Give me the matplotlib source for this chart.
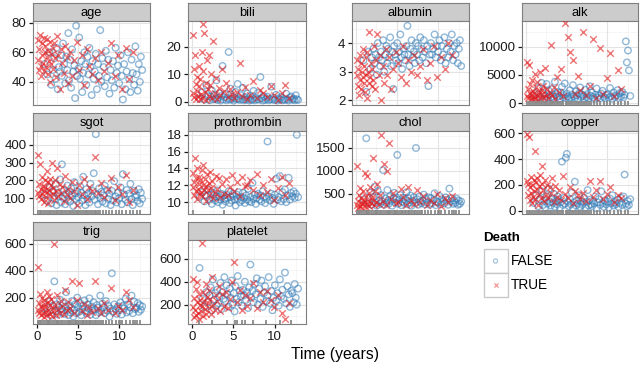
import matplotlib

matplotlib.use("Agg")
import matplotlib.pyplot as plt
from matplotlib.patches import Rectangle


BLUE = "#377EB8"
RED = "#E41A1C"

# follow-up time (years) of patients who died / who were censored
DEAD_TIME = [
    0.11, 0.16, 0.24, 0.31, 0.38, 0.47, 0.52, 0.61, 0.68, 0.74, 0.83, 0.91, 0.97,
    1.04, 1.12, 1.19, 1.27, 1.36, 1.41, 1.52, 1.58, 1.67, 1.76, 1.83, 1.94,
    2.03, 2.11, 2.22, 2.36, 2.48, 2.61, 2.77, 2.93,
    3.08, 3.27, 3.41, 3.62, 3.85,
    4.07, 4.31, 4.58, 4.86,
    5.13, 5.45, 5.78, 6.07, 6.38, 6.71,
    7.03, 7.39, 7.82, 8.21, 8.63,
    9.04, 9.52, 9.91, 10.37, 10.84, 11.26, 11.71,
]
ALIVE_TIME = [
    0.94, 1.28, 1.53, 1.77, 1.96,
    2.14, 2.29, 2.41, 2.56, 2.68, 2.83, 2.97,
    3.06, 3.19, 3.33, 3.46, 3.58, 3.71, 3.84, 3.93,
    4.06, 4.18, 4.29, 4.44, 4.57, 4.66, 4.79, 4.92,
    5.04, 5.16, 5.27, 5.41, 5.53, 5.64, 5.79, 5.91,
    6.02, 6.16, 6.28, 6.39, 6.53, 6.67, 6.78, 6.92,
    7.05, 7.17, 7.31, 7.44, 7.58, 7.71, 7.83, 7.97,
    8.12, 8.26, 8.39, 8.54, 8.68, 8.83, 8.97,
    9.12, 9.26, 9.41, 9.57, 9.72, 9.86,
    10.01, 10.17, 10.32, 10.46, 10.61, 10.77, 10.91,
    11.06, 11.22, 11.37, 11.51, 11.66, 11.82, 11.97,
    12.11, 12.26, 12.39, 12.52, 12.64, 12.8,
]

AGE_DEAD = [
    55, 68, 48, 62, 72, 51, 44, 58, 66, 53, 70, 47, 60,
    64, 50, 57, 69, 45, 61, 54, 40, 67, 52, 59, 63,
    49, 66, 56, 43, 71, 58, 35, 62,
    53, 46, 64, 57, 39,
    60, 44, 55, 67,
    48, 58, 38, 62, 51, 45,
    56, 41, 60, 47, 53,
    66, 44, 58, 35, 63, 42, 60,
]
AGE_ALIVE = [
    52, 45, 60, 38, 48,
    56, 42, 63, 35, 50, 47, 58,
    44, 66, 52, 39, 57, 48, 73, 41,
    55, 36, 62, 47, 51, 29, 78, 44,
    49, 70, 42, 54, 33, 46, 60, 52,
    38, 57, 45, 63, 50, 31, 54, 42,
    47, 59, 35, 52, 44, 75, 40, 56,
    50, 37, 61, 43, 55, 32, 48,
    41, 54, 36, 63, 46, 51,
    39, 58, 44, 28, 52, 35, 47,
    60, 42, 33, 55, 46, 38, 64,
    45, 34, 52, 40, 57, 48,
]

BILI_DEAD = [
    3.2, 24, 12, 1.8, 17, 6.5, 0.9, 9, 4.1, 2.3, 13, 5.6, 1.2,
    8.2, 2.7, 18, 1.5, 28, 11, 25, 3.6, 7, 0.8, 15, 4.8,
    2.1, 17, 6, 10, 1.4, 22, 3.3, 8.5,
    1.1, 5.2, 2.4, 12, 3.9,
    6.8, 1.7, 4.5, 2.9,
    1.3, 3.7, 14, 2.2, 5.5, 0.9,
    2.6, 7.4, 1.6, 4.2, 3.1,
    1.9, 5.8, 2.5, 0.7, 3.4, 6.1, 1.4,
]
BILI_ALIVE = [
    1.2, 3.5, 0.8, 6, 2.1,
    0.6, 1.8, 4.2, 0.9, 2.6, 1.1, 7.8,
    0.7, 1.5, 3.1, 0.5, 2.2, 13, 0.9, 1.7,
    2.8, 0.6, 1.3, 18, 0.8, 4.8, 1.0, 2.0,
    0.5, 1.4, 3.6, 0.9, 6.5, 1.2, 0.7, 2.4,
    1.0, 5.1, 0.6, 1.8, 0.8, 3.0, 1.3, 0.5,
    2.2, 0.7, 1.1, 4.0, 0.6, 1.6, 0.9, 3.3,
    0.8, 9, 1.4, 0.5, 2.1, 0.7, 1.2,
    1.9, 0.6, 1.0, 5.5, 0.8, 1.5,
    0.7, 2.6, 0.5, 1.3, 0.9, 1.8, 0.6,
    1.1, 0.7, 3.0, 0.9, 0.5, 1.6, 2.0,
    0.8, 1.2, 0.6, 2.4, 1.0, 0.7,
]

ALBUMIN_DEAD = [
    2.9, 3.4, 2.5, 3.1, 2.2, 3.6, 2.7, 3.3, 2.4, 3.0, 2.8, 3.8, 2.6,
    3.2, 2.3, 3.5, 2.9, 2.1, 3.7, 3.0, 2.6, 4.4, 2.8, 3.3, 2.5,
    3.1, 2.7, 3.9, 2.4, 3.4, 4.3, 2.9, 3.6,
    2.0, 3.2, 2.6, 3.8, 2.9,
    3.5, 2.4, 3.1, 3.7,
    3.3, 2.8, 3.9, 2.6, 3.4, 3.0,
    3.6, 2.9, 3.2, 3.8, 2.7,
    3.3, 3.9, 2.8, 3.5, 3.1, 4.0, 3.6,
]
ALBUMIN_ALIVE = [
    3.4, 2.3, 3.7, 3.1, 3.5,
    3.8, 3.3, 3.6, 2.9, 4.0, 3.5, 3.2,
    3.7, 3.4, 4.1, 3.0, 3.6, 3.9, 3.3, 3.8,
    3.5, 4.2, 3.2, 3.7, 2.4, 3.9, 3.6, 3.4,
    4.0, 3.3, 3.7, 4.3, 3.5, 3.1, 3.8, 3.6,
    3.4, 3.9, 4.6, 3.6, 3.2, 3.8, 4.1, 3.5,
    3.7, 3.3, 4.0, 3.6, 3.9, 3.4, 4.2, 3.8,
    3.5, 4.1, 3.7, 3.3, 3.9, 2.5, 3.6,
    4.0, 3.6, 3.8, 4.3, 3.5, 3.9,
    3.7, 4.1, 3.4, 3.9, 3.6, 4.2, 3.3,
    3.8, 3.5, 4.0, 3.7, 4.3, 3.4, 3.9,
    3.6, 4.0, 3.3, 3.8, 4.1, 3.2,
]

ALK_DEAD = [
    1200, 7200, 2500, 850, 6800, 1800, 3400, 950, 1500, 4100, 700, 2200, 1100,
    1900, 5200, 800, 2800, 1300, 3700, 650, 2100, 1600, 5600, 1000, 2400,
    1700, 3100, 900, 6300, 1400, 2600, 1000, 1800,
    10200, 1500, 2900, 800, 4700,
    2000, 6100, 1200, 14100,
    11600, 9000, 7600, 1700, 4800, 2300,
    12500, 1400, 3000, 11300, 900,
    9700, 1600, 4400, 8900, 1300, 5800, 2500,
]
ALK_ALIVE = [
    1400, 900, 2700, 1100, 3600,
    1800, 700, 1300, 3400, 950, 2200, 1500,
    1000, 2500, 1200, 800, 3800, 1600, 1100, 2000,
    1300, 750, 1900, 2900, 1050, 1450, 3500, 900,
    1700, 1200, 850, 2300, 1000, 1550, 3200, 1250,
    950, 2100, 1400, 700, 1750, 2800, 1100, 1500,
    1250, 800, 2400, 1050, 1650, 900, 3000, 1300,
    1900, 1100, 750, 1500, 2600, 1000, 1350,
    850, 1700, 2200, 1150, 900, 1450,
    1600, 1000, 2700, 1250, 800, 1900, 1100,
    1400, 2300, 950, 1750, 1200, 2000, 1050,
    1500, 10900, 7200, 9300, 5800, 1300,
]

SGOT_DEAD = [
    130, 340, 110, 180, 290, 95, 150, 220, 120, 170, 80, 140, 200,
    160, 105, 250, 135, 190, 70, 145, 210, 115, 175, 300, 125,
    155, 90, 200, 140, 270, 110, 180, 130,
    165, 85, 225, 120, 150,
    100, 190, 140, 60,
    175, 120, 210, 95, 160, 140,
    330, 130, 185, 105, 150,
    215, 90, 160, 125, 230, 75, 145,
]
SGOT_ALIVE = [
    120, 85, 160, 70, 140,
    95, 180, 60, 130, 110, 205, 75,
    290, 100, 145, 65, 120, 170, 90, 135,
    80, 155, 110, 55, 190, 125, 95, 140,
    105, 70, 165, 130, 85, 220, 115, 60,
    150, 95, 125, 75, 180, 110, 140, 240,
    90, 460, 120, 65, 155, 100, 135, 80,
    115, 170, 70, 145, 95, 125, 60,
    140, 85, 195, 110, 75, 130,
    100, 160, 65, 235, 120, 90, 145,
    75, 125, 180, 95, 60, 140, 105,
    115, 85, 150, 70, 130, 95,
]

PROTHROMBIN_DEAD = [
    11.8, 13.5, 10.9, 12.4, 15.2, 11.3, 12.9, 10.4, 14.1, 11.6, 12.2, 13.0, 11.0,
    12.6, 11.2, 13.8, 10.7, 12.0, 14.4, 11.5, 12.8, 10.2, 11.9, 13.3, 11.4,
    12.3, 10.8, 13.6, 11.7, 12.5, 10.5, 11.1, 13.1,
    11.6, 12.9, 10.6, 12.2, 11.0,
    12.7, 10.9, 11.8, 13.2,
    11.3, 12.4, 10.7, 13.0, 11.9, 12.1,
    12.6, 11.5, 13.4, 10.8, 12.0,
    11.2, 12.8, 10.3, 11.7, 13.0, 10.9, 12.3,
]
PROTHROMBIN_ALIVE = [
    10.6, 11.2, 10.1, 10.8, 11.5,
    10.3, 10.9, 9.8, 10.5, 11.1, 10.2, 10.7,
    11.4, 10.0, 10.6, 10.3, 11.0, 9.7, 10.8, 10.4,
    10.1, 10.9, 10.5, 11.3, 9.9, 10.6, 10.2, 11.0,
    10.7, 10.3, 9.6, 10.9, 10.4, 11.2, 10.0, 10.6,
    10.2, 11.1, 10.5, 9.9, 10.8, 10.3, 11.6, 10.1,
    10.6, 10.0, 12.3, 10.4, 10.9, 9.8, 10.5, 11.0,
    10.3, 10.8, 10.1, 11.3, 10.6, 9.9, 10.4,
    17.2, 10.7, 10.2, 11.0, 10.5, 9.8,
    10.9, 12.8, 10.3, 10.6, 13.1, 10.1, 11.2,
    10.4, 11.5, 10.0, 10.8, 12.9, 10.3, 11.1,
    10.7, 11.3, 10.5, 11.0, 18.0, 10.6,
]

CHOL_DEAD = [
    260, 1090, 340, 180, 480, 230, 620, 300, 410, 200, 550, 280, 370,
    320, 940, 210, 460, 270, 880, 350, 520, 240, 650, 300, 430,
    390, 1280, 250, 560, 310, 720, 280, 470,
    1780, 340, 1150, 260, 1000,
    1600, 380, 520, 290,
    310, 600, 420, 250, 640, 360,
    280, 590, 330, 450, 260,
    370, 290, 500, 240, 410, 330, 460,
]
CHOL_ALIVE = [
    380, 1700, 290, 520, 260,
    430, 650, 310, 240, 560, 350, 280,
    470, 330, 1010, 260, 400, 300, 580, 360,
    290, 450, 340, 240, 390, 520, 310, 420,
    1340, 280, 370, 470, 250, 330, 410, 300,
    360, 530, 270, 400, 310, 460, 240, 350,
    420, 300, 1490, 380, 260, 440, 330, 290,
    350, 480, 270, 390, 310, 420, 260,
    400, 290, 360, 510, 250, 330,
    310, 450, 270, 380, 340, 290, 420,
    370, 260, 610, 330, 400, 280, 350,
    300, 390, 260, 350, 280, 330,
]

COPPER_DEAD = [
    230, 590, 120, 210, 570, 80, 180, 260, 140, 60, 200, 110, 240,
    150, 460, 90, 220, 170, 250, 45, 190, 130, 280, 100, 210,
    350, 160, 75, 240, 120, 200, 95, 180,
    140, 250, 70, 190, 110,
    160, 85, 270, 130,
    100, 180, 60, 150, 120, 90,
    140, 75, 230, 110, 160,
    230, 90, 130, 180, 70, 120, 100,
]
COPPER_ALIVE = [
    60, 120, 35, 90, 150,
    45, 80, 25, 110, 55, 170, 70,
    40, 95, 60, 130, 30, 75, 50, 110,
    85, 25, 65, 380, 45, 100, 55, 410,
    440, 70, 35, 90, 50, 140, 20, 65,
    225, 40, 80, 55, 120, 30, 75, 45,
    60, 100, 25, 70, 160, 40, 85, 50,
    35, 75, 55, 110, 20, 65, 90,
    45, 150, 60, 30, 80, 50,
    70, 25, 95, 55, 120, 40, 65,
    50, 85, 30, 60, 100, 45, 110,
    280, 55, 35, 75, 45, 90,
]

TRIG_DEAD = [
    110, 430, 160, 90, 230, 70, 140, 200, 120, 85, 180, 60, 150,
    130, 95, 240, 75, 170, 110, 210, 80, 145, 190, 65, 125,
    100, 600, 155, 70, 220, 115, 90, 175,
    140, 80, 260, 110, 165,
    125, 320, 90, 180,
    310, 100, 150, 75, 130, 95,
    320, 120, 85, 160, 105,
    270, 90, 140, 110, 240, 180, 130,
]
TRIG_ALIVE = [
    120, 90, 170, 65, 140,
    320, 100, 150, 75, 130, 185, 95,
    115, 160, 80, 135, 240, 105, 70, 145,
    90, 125, 175, 60, 110, 150, 85, 200,
    130, 95, 160, 70, 115, 140, 180, 100,
    85, 150, 120, 195, 75, 135, 105, 165,
    110, 70, 145, 125, 90, 215, 100, 155,
    130, 85, 175, 105, 140, 60, 120,
    380, 95, 150, 115, 80, 135,
    105, 165, 75, 140, 120, 190, 90,
    150, 100, 130, 215, 85, 170, 115,
    125, 160, 95, 145, 110, 135,
]

PLATELET_DEAD = [
    180, 420, 90, 260, 150, 340, 110, 220, 400, 130, 290, 70, 200,
    240, 140, 740, 190, 310, 100, 230, 160, 380, 120, 270, 210,
    170, 330, 250, 120, 440, 200, 150, 280,
    230, 360, 140, 290, 190,
    310, 170, 250, 400,
    570, 220, 330, 150, 280, 190,
    260, 390, 170, 310, 220,
    320, 240, 180, 280, 130, 70, 210,
]
PLATELET_ALIVE = [
    520, 250, 180, 310, 220,
    280, 350, 150, 420, 240, 300, 190,
    330, 210, 270, 390, 160, 310, 250, 440,
    230, 370, 290, 180, 340, 260, 410, 200,
    300, 140, 360, 250, 450, 220, 320, 270,
    190, 330, 280, 400, 240, 310, 170, 350,
    550, 260, 320, 220, 380, 290, 430, 200,
    340, 250, 410, 180, 300, 360, 230,
    280, 440, 210, 320, 150, 260,
    370, 230, 300, 190, 420, 270, 330,
    250, 480, 210, 360, 290, 180, 320,
    300, 220, 380, 260, 200, 340,
]

# times of patients with the lab value missing (drawn as a rug)
MISSING_LAB_TIME = [
    0.18, 0.42, 0.55, 0.81, 1.02, 1.24, 1.47, 1.63, 1.88, 2.07, 2.31, 2.52,
    2.74, 2.96, 3.12, 3.37, 3.55, 3.78, 3.99, 4.21, 4.43, 4.62, 4.88, 5.07,
    5.29, 5.48, 5.72, 5.93, 6.14, 6.36, 6.58, 6.81, 7.02, 7.25, 7.47, 7.73,
    8.05, 8.42, 8.77, 9.13, 9.58, 9.96, 10.34, 10.82, 11.27, 11.71, 12.18, 12.55,
]
MISSING_EXTRA_TIME = [0.33, 1.35, 2.63, 3.9, 4.75, 5.6, 6.5, 7.9, 10.1, 11.9]
MISSING_PLATELET_TIME = [0.9, 2.4, 4.3, 5.2, 5.5, 6.1, 6.4, 7.4, 8.9, 10.6, 12.0]
MISSING_PROTHROMBIN_TIME = [0.15, 3.9]

X_TICKS = [0, 5, 10]
LEGEND_LABELS = ["FALSE", "TRUE"]

# pixel layout of the 640x365 canvas
W, H = 640, 365
COLS = [(33, 150), (188, 306), (352, 469), (522, 638)]
ROWS = [(3, 21, 105), (113, 131, 214), (222, 240, 324)]
XLIM = (-0.45, 13.75)


def panel_specs():
    return [
        ("age", AGE_DEAD, AGE_ALIVE, (24.3, 81.2), [40, 60, 80], [30, 50, 70], []),
        ("bili", BILI_DEAD, BILI_ALIVE, (-1.1, 29.2), [0, 10, 20], [5, 15, 25], []),
        ("albumin", ALBUMIN_DEAD, ALBUMIN_ALIVE, (1.84, 4.77), [2, 3, 4], [2.5, 3.5, 4.5], []),
        ("alk", ALK_DEAD, ALK_ALIVE, (-300, 14500), [0, 5000, 10000], [2500, 7500, 12500],
         MISSING_LAB_TIME),
        ("sgot", SGOT_DEAD, SGOT_ALIVE, (10, 478), [100, 200, 300, 400], [50, 150, 250, 350, 450],
         MISSING_LAB_TIME),
        ("prothrombin", PROTHROMBIN_DEAD, PROTHROMBIN_ALIVE, (8.6, 18.45), [10, 12, 14, 16, 18],
         [9, 11, 13, 15, 17], MISSING_PROTHROMBIN_TIME),
        ("chol", CHOL_DEAD, CHOL_ALIVE, (60, 1858), [500, 1000, 1500], [250, 750, 1250, 1750],
         MISSING_LAB_TIME + MISSING_EXTRA_TIME),
        ("copper", COPPER_DEAD, COPPER_ALIVE, (-25, 617), [0, 200, 400, 600], [100, 300, 500],
         MISSING_LAB_TIME),
        ("trig", TRIG_DEAD, TRIG_ALIVE, (5, 626), [200, 400, 600], [100, 300, 500],
         MISSING_LAB_TIME + MISSING_EXTRA_TIME),
        ("platelet", PLATELET_DEAD, PLATELET_ALIVE, (30, 765), [200, 400, 600], [100, 300, 500, 700],
         MISSING_PLATELET_TIME),
    ]


def px_rect(x0, y0, x1, y1):
    return [x0 / W, 1 - y1 / H, (x1 - x0) / W, (y1 - y0) / H]


def draw_panel(fig, idx, spec):
    name, dead, alive, ylim, yticks, yminor, missing = spec
    r, c = divmod(idx, 4)
    x0, x1 = COLS[c]
    s0, p0, p1 = ROWS[r]

    strip = fig.add_axes(px_rect(x0, s0, x1, p0))
    strip.set_facecolor("#CCCCCC")
    strip.set_xticks([])
    strip.set_yticks([])
    for sp in strip.spines.values():
        sp.set_color("#7F7F7F")
        sp.set_linewidth(0.8)
    strip.text(0.5, 0.45, name, ha="center", va="center", fontsize=9.3, transform=strip.transAxes)

    ax = fig.add_axes(px_rect(x0, p0, x1, p1))
    ax.set_xlim(*XLIM)
    ax.set_ylim(*ylim)
    for v in [2.5, 7.5, 12.5]:
        ax.axvline(v, color="#F3F3F3", lw=0.5, zorder=0)
    for v in yminor:
        ax.axhline(v, color="#F3F3F3", lw=0.5, zorder=0)
    for v in X_TICKS:
        ax.axvline(v, color="#E3E3E3", lw=0.8, zorder=0)
    for v in yticks:
        ax.axhline(v, color="#E3E3E3", lw=0.8, zorder=0)

    n_a = min(len(ALIVE_TIME), len(alive))
    n_d = min(len(DEAD_TIME), len(dead))
    ax.scatter(ALIVE_TIME[:n_a], alive[:n_a], s=22, facecolors="none", edgecolors=BLUE,
               linewidths=1.0, alpha=0.55, zorder=2)
    ax.scatter(DEAD_TIME[:n_d], dead[:n_d], s=22, marker="x", c=RED,
               linewidths=1.0, alpha=0.6, zorder=3)

    if missing:
        ax.vlines(missing, 0, 0.045, transform=ax.get_xaxis_transform(),
                  colors="#8A8A8A", lw=1.3, zorder=4)

    ax.set_yticks(yticks)
    ax.set_yticklabels([str(v) for v in yticks])
    ax.tick_params(axis="y", labelsize=9.5, length=3.2, width=0.9, pad=1.5, colors="#1A1A1A")
    if name in ("trig", "platelet"):
        ax.set_xticks(X_TICKS)
        ax.tick_params(axis="x", labelsize=9.5, length=3.2, width=0.9, pad=2, colors="#1A1A1A")
    else:
        ax.set_xticks([])
    for sp in ax.spines.values():
        sp.set_color("#7F7F7F")
        sp.set_linewidth(0.8)


def draw_legend(fig):
    lax = fig.add_axes(px_rect(478, 228, 570, 300))
    lax.set_xlim(478, 570)
    lax.set_ylim(300, 228)
    lax.axis("off")
    lax.text(483, 238, "Death", fontsize=9.6, fontweight="bold", va="center", ha="left")
    for i, label in enumerate(LEGEND_LABELS):
        top = 249 + 24 * i
        lax.add_patch(Rectangle((483.5, top), 24, 24, facecolor="white", edgecolor="#C8C8C8", lw=1.0))
        if label == "FALSE":
            lax.scatter([495.5], [top + 12], s=9, facecolors="none", edgecolors=BLUE,
                        linewidths=0.9, alpha=0.45)
        else:
            lax.scatter([495.5], [top + 12], s=9, marker="x", c=RED, linewidths=0.9, alpha=0.45)
        lax.text(511, top + 12, label, fontsize=9.8, va="center", ha="left")


def main():
    plt.rcParams["font.family"] = ["Liberation Sans", "DejaVu Sans"]
    fig = plt.figure(figsize=(6.4, 3.65), dpi=100, facecolor="white")

    for idx, spec in enumerate(panel_specs()):
        draw_panel(fig, idx, spec)

    draw_legend(fig)
    fig.text(335 / W, 1 - 355 / H, "Time (years)", ha="center", va="center", fontsize=11.3)

    fig.savefig("out.png", dpi=100, facecolor="white")
    plt.close(fig)


if __name__ == "__main__":
    main()
